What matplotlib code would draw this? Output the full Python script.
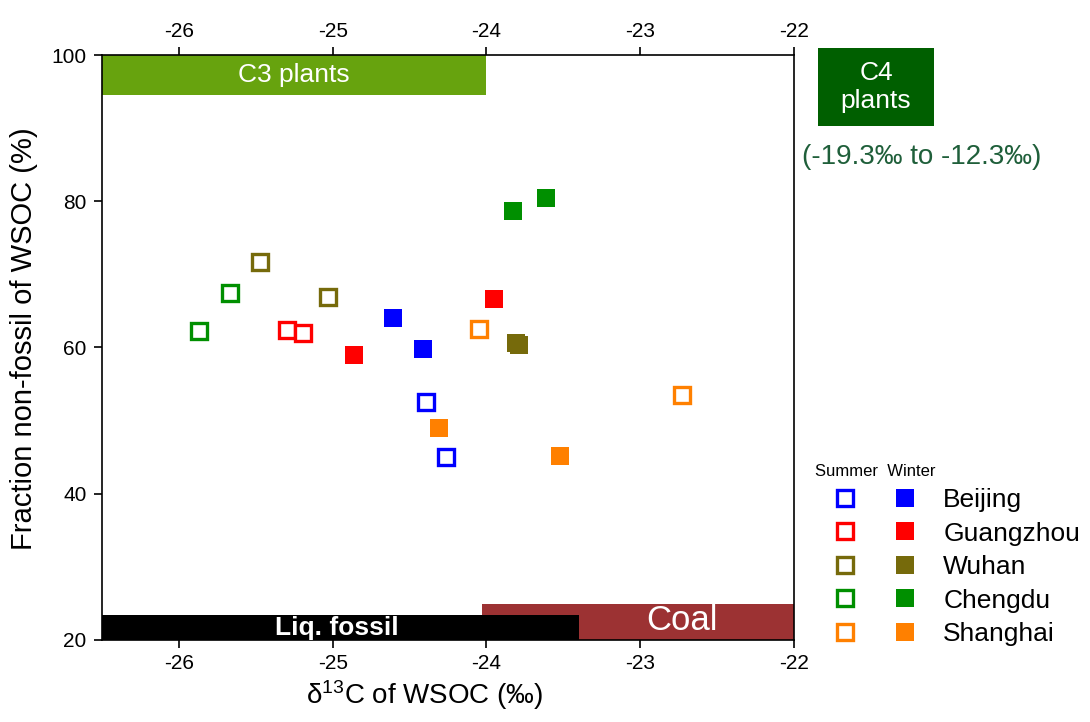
import matplotlib
matplotlib.use('Agg')
import matplotlib.pyplot as plt
from matplotlib.lines import Line2D
from matplotlib.patches import Rectangle
from matplotlib.legend_handler import HandlerTuple

plt.rcParams['font.family'] = ['Liberation Sans', 'DejaVu Sans']
plt.rcParams['mathtext.fontset'] = 'custom'
plt.rcParams['mathtext.rm'] = 'Liberation Sans'
plt.rcParams['mathtext.it'] = 'Liberation Sans:italic'

# ===================== 数据 =====================
cities = ['Beijing', 'Guangzhou', 'Wuhan', 'Chengdu', 'Shanghai']
colors = ['#0000FF', '#FF0000', '#766A0B', '#008F00', '#FF8000']

summer_x = [[-24.39, -24.26], [-25.30, -25.19], [-25.47, -25.03], [-25.87, -25.67], [-24.05, -22.73]]
summer_y = [[52.5, 45.0], [62.4, 62.0], [71.7, 66.9], [62.3, 67.5], [62.5, 53.5]]
winter_x = [[-24.61, -24.41], [-24.86, -23.95], [-23.81, -23.79], [-23.83, -23.61], [-24.31, -23.52]]
winter_y = [[64.0, 59.8], [59.0, 66.6], [60.6, 60.3], [78.7, 80.4], [49.0, 45.2]]

# 端元范围 (x0, x1, y0, y1)
c3_range = (-26.5, -24.0, 94.6, 100)
coal_range = (-24.03, -22.0, 20, 24.9)
liq_range = (-26.5, -23.4, 20, 23.4)

xticks = [-26, -25, -24, -23, -22]
yticks = [20, 40, 60, 80, 100]

# ===================== 绘图 =====================
fig = plt.figure(figsize=(10.9, 7.22), dpi=100)
ax = fig.add_axes([0.0936, 0.1136, 0.6348, 0.8102])
ax.set_xlim(-26.5, -22)
ax.set_ylim(20, 100)

def band(r, color, z):
    ax.fill_between([r[0], r[1]], r[2], r[3], color=color, lw=0, zorder=z)

band(c3_range, '#67A30E', 1)
band(coal_range, '#9C3233', 1)
band(liq_range, '#000000', 2)

ax.text((c3_range[0] + c3_range[1]) / 2, (c3_range[2] + c3_range[3]) / 2, 'C3 plants',
        color='white', fontsize=19, ha='center', va='center', zorder=3)
ax.text(-24.97, 21.7, 'Liq. fossil', color='white', fontsize=19, fontweight='bold',
        ha='center', va='center', zorder=3)
ax.text(-22.73, 22.6, 'Coal', color='white', fontsize=25, ha='center', va='center', zorder=3)

for i, c in enumerate(colors):
    ax.plot(summer_x[i], summer_y[i], 's', ms=11, mfc='white', mec=c, mew=2.4, ls='none', zorder=4)
    ax.plot(winter_x[i], winter_y[i], 's', ms=13, mfc=c, mec=c, mew=0, ls='none', zorder=4)

ax.set_xticks(xticks)
ax.set_yticks(yticks)
ax.set_xticklabels([str(t) for t in xticks])
ax.tick_params(axis='both', direction='out', length=6, width=1.2, labelsize=15, pad=5)
ax.tick_params(axis='x', top=True, labeltop=True)
ax.tick_params(axis='x', which='major', pad=4)
ax.tick_params(axis='y', right=False)
for s in ax.spines.values():
    s.set_linewidth(1.2)

ax.set_xlabel('δ$^{13}$C of WSOC (‰)', fontsize=20)
ax.xaxis.set_label_coords(0.467, -0.066)
ax.set_ylabel('Fraction non-fossil of WSOC (%)', fontsize=21)
ax.yaxis.set_label_coords(-0.092, 0.515)

# C4 植物框
fig.patches.append(Rectangle((818 / 1090, 1 - 126 / 722), 116 / 1090, 78 / 722,
                             transform=fig.transFigure, fc='#005F00', ec='none'))
fig.text(876 / 1090, 1 - 87 / 722, 'C4\nplants', color='white', fontsize=19,
         ha='center', va='center', linespacing=1.25)
fig.text(0.846, 0.782, '(-19.3‰ to -12.3‰)', color='#1F5F3A', fontsize=20, ha='center', va='center')

# 图例
handles = []
for c in colors:
    h_s = Line2D([], [], marker='s', ms=11, mfc='white', mec=c, mew=2.4, ls='none')
    h_w = Line2D([], [], marker='s', ms=13, mfc=c, mec=c, mew=0, ls='none')
    handles.append((h_s, h_w))
leg = fig.legend(handles, cities, handler_map={tuple: HandlerTuple(ndivide=None, pad=0)},
                 loc='upper left', bbox_to_anchor=(0.748, 0.358), frameon=False,
                 fontsize=19, handlelength=4.55, handletextpad=0.3, labelspacing=0.36,
                 title='Summer  Winter', title_fontsize=12, alignment='left',
                 borderaxespad=0, borderpad=0)

fig.savefig('out.png', dpi=100)
